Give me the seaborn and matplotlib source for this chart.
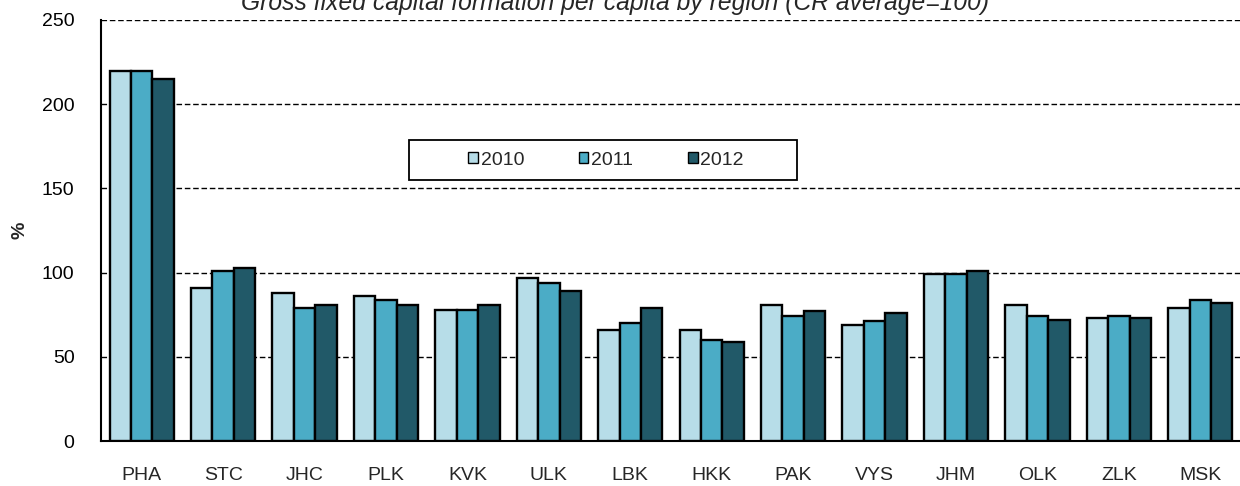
import numpy as np
import pandas as pd
import seaborn as sns
import matplotlib.pyplot as plt
from matplotlib.patches import Rectangle
from matplotlib.ticker import FixedLocator

# Data
regions = ['PHA', 'STC', 'JHC', 'PLK', 'KVK', 'ULK', 'LBK',
           'HKK', 'PAK', 'VYS', 'JHM', 'OLK', 'ZLK', 'MSK']
years = ['2010', '2011', '2012']
v2010 = [220, 91, 88, 86, 78, 97, 66, 66, 81, 69, 99, 81, 73, 79]
v2011 = [220, 101, 79, 84, 78, 94, 70, 60, 74, 71, 99, 74, 74, 84]
v2012 = [215, 103, 81, 81, 81, 89, 79, 59, 77, 76, 101, 72, 73, 82]
colors = ['#B7DDE8', '#4BACC6', '#215968']

df = pd.DataFrame({
    'region': regions * 3,
    'year': [y for y in years for _ in regions],
    'value': v2010 + v2011 + v2012,
})

sns.set_style("white")
plt.rcParams['font.family'] = ['Liberation Sans', 'DejaVu Sans']

fig = plt.figure(figsize=(12.4, 4.86), dpi=100)
ax = fig.add_axes([101 / 1240, 1 - 441 / 486, 1140 / 1240, 421 / 486])

sns.barplot(data=df, x='region', y='value', hue='year', palette=colors,
            saturation=1, edgecolor='black', linewidth=1.7, width=0.79,
            ax=ax, zorder=3)

ax.set_ylim(0, 250)
ax.set_xlim(-0.5, len(regions) - 0.5)
ax.set_yticks([0, 50, 100, 150, 200, 250])
ax.yaxis.grid(True, linestyle=(0, (4, 2)), color='black', linewidth=1)
ax.set_axisbelow(True)

for s in ['top', 'right']:
    ax.spines[s].set_visible(False)
for s in ['left', 'bottom']:
    ax.spines[s].set_color('black')
    ax.spines[s].set_linewidth(1.5)

ax.tick_params(axis='y', direction='inout', length=10, width=1.2,
               labelsize=14, pad=14, colors='black')
ax.tick_params(axis='x', which='major', length=0, labelsize=14, pad=19)
ax.xaxis.set_minor_locator(FixedLocator(np.arange(len(regions) + 1) - 0.5))
ax.tick_params(axis='x', which='minor', direction='out', length=6, width=1.2)

ax.set_xlabel('')
ax.set_ylabel('%', fontsize=14, fontweight='bold', labelpad=10)

# legend: frame drawn separately so it can be wider than its content
ax.add_patch(Rectangle((0.270, 0.620), 0.3405, 0.095, transform=ax.transAxes,
                       facecolor='white', edgecolor='black', linewidth=1.3,
                       zorder=4))
leg = ax.legend(loc='center', bbox_to_anchor=(0.443, 0.667), ncol=3,
                fontsize=14, frameon=False, handlelength=0.5,
                handleheight=0.5, handletextpad=0.15, columnspacing=2.8)
leg.set_zorder(5)
for h in leg.legend_handles:
    h.set_linewidth(1)

fig.text(0.496, 1 - 10 / 486,
         'Gross fixed capital formation per capita by region (CR average=100)',
         ha='center', va='baseline', fontsize=17.7, style='italic')

fig.savefig('out.png', dpi=100)
